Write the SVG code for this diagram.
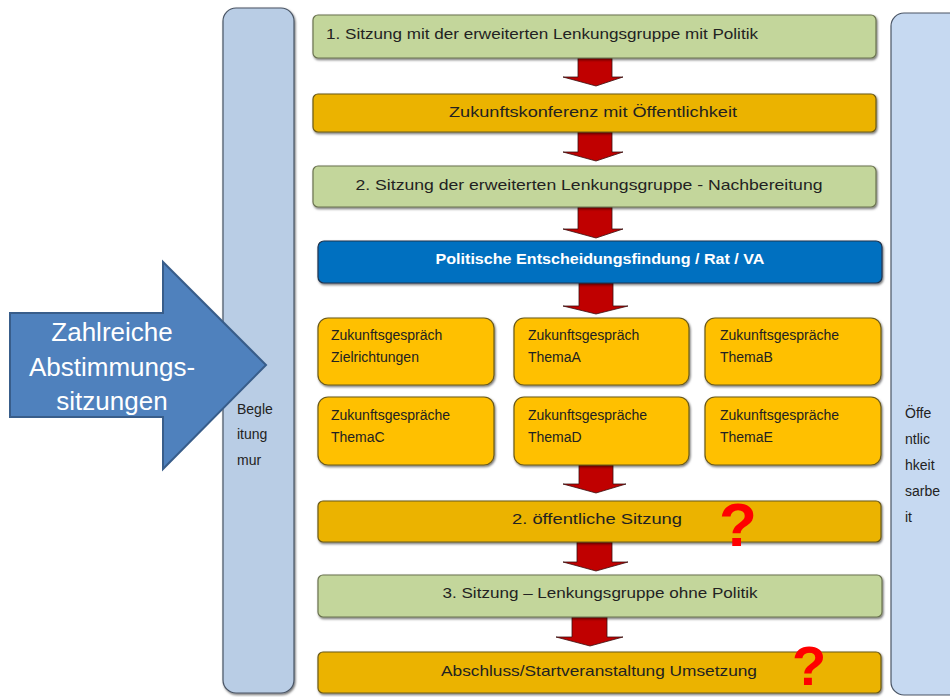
<svg xmlns="http://www.w3.org/2000/svg" width="950" height="697" viewBox="0 0 950 697">
<style>
text{font-family:"Liberation Sans",Arial,sans-serif;fill:#222;}
.lbl{font-size:15px;}
.sm{font-size:14px;}
.green{fill:#C3D69B;stroke:#6B7350;stroke-width:1.2;}
.orange{fill:#EBB300;stroke:#6B5A1A;stroke-width:1.2;}
.yel{fill:#FFC000;stroke:#6B5A1A;stroke-width:1.2;}
.blue{fill:#0070C0;stroke:#1F3550;stroke-width:1.2;}
.bar{stroke:#4A5565;stroke-width:1.2;}
.arr{fill:#C00000;stroke:#3A1010;stroke-width:0.8;}
.q{font-family:"Liberation Sans",Arial,sans-serif;font-weight:bold;font-size:62px;fill:#FF0000;}
.side{font-size:14px;fill:#222;}
</style>
<defs>
<filter id="sh" x="-5%" y="-20%" width="110%" height="150%">
<feDropShadow dx="1" dy="1.5" stdDeviation="0.8" flood-color="#000" flood-opacity="0.55"/>
</filter>
</defs>
<rect width="950" height="697" fill="#fff"/>

<g id="bar-left">
<rect class="bar" x="223" y="8" width="71" height="685" rx="13" fill="#B9CDE5" filter="url(#sh)"/>
<text class="side" x="237" y="414">Begle</text>
<text class="side" x="237" y="439">itung</text>
<text class="side" x="237" y="465">mur</text>
</g>

<g id="bar-right">
<rect class="bar" x="891" y="13" width="80" height="682" rx="13" fill="#C6D9F1"/>
<text class="side" x="905" y="418">Öffe</text>
<text class="side" x="905" y="444">ntlic</text>
<text class="side" x="905" y="470">hkeit</text>
<text class="side" x="905" y="496">sarbe</text>
<text class="side" x="905" y="522">it</text>
</g>

<g id="big-arrow">
<path d="M10,313 L163,313 L163,262 L266,365 L163,469 L163,417 L10,417 Z" fill="#4F81BD" stroke="#385D8A" stroke-width="2"/>
<text x="112" y="341" text-anchor="middle" style="font-size:26px;fill:#fff">Zahlreiche</text>
<text x="112" y="376" text-anchor="middle" style="font-size:26px;fill:#fff">Abstimmungs-</text>
<text x="112" y="410" text-anchor="middle" style="font-size:26px;fill:#fff">sitzungen</text>
</g>

<g id="connectors">
<path class="arr" d="M578,58 L612,58 L612,77 L623,77 L596,86 L563,77 L578,77 Z"/>
<path class="arr" d="M578,132 L612,132 L612,152 L623,152 L596,161 L563,152 L578,152 Z"/>
<path class="arr" d="M578,207 L612,207 L612,229 L623,229 L596,238 L563,229 L578,229 Z"/>
<path class="arr" d="M579,283 L613,283 L613,306 L628,306 L596,314 L563,306 L579,306 Z"/>
<path class="arr" d="M579,465 L613,465 L613,484 L626,484 L596,493 L563,484 L579,484 Z"/>
<path class="arr" d="M577,542 L612,542 L612,562 L628,562 L596,571 L563,562 L577,562 Z"/>
<path class="arr" d="M572,617 L607,617 L607,637 L623,637 L590,646 L556,637 L572,637 Z"/>
</g>

<g id="n1">
<rect class="green" x="313" y="15" width="563" height="43" rx="5" filter="url(#sh)"/>
<text class="lbl" x="326" y="39" textLength="432" lengthAdjust="spacingAndGlyphs">1. Sitzung mit der erweiterten Lenkungsgruppe mit Politik</text>
</g>
<g id="n2">
<rect class="orange" x="313" y="94" width="563" height="38" rx="5" filter="url(#sh)"/>
<text class="lbl" x="593" y="117" text-anchor="middle" textLength="288" lengthAdjust="spacingAndGlyphs">Zukunftskonferenz mit Öffentlichkeit</text>
</g>
<g id="n3">
<rect class="green" x="313" y="166" width="563" height="41" rx="5" filter="url(#sh)"/>
<text class="lbl" x="589" y="190" text-anchor="middle" textLength="467" lengthAdjust="spacingAndGlyphs">2. Sitzung der erweiterten Lenkungsgruppe - Nachbereitung</text>
</g>
<g id="n4">
<rect class="blue" x="318" y="241" width="564" height="42" rx="6" filter="url(#sh)"/>
<text class="lbl" x="600" y="264" text-anchor="middle" textLength="329" lengthAdjust="spacingAndGlyphs" style="font-weight:bold;fill:#fff">Politische Entscheidungsfindung / Rat / VA</text>
</g>

<g id="t1">
<rect class="yel" x="318" y="318" width="176" height="67" rx="10" filter="url(#sh)"/>
<text class="sm" x="331" y="340">Zukunftsgespräch</text>
<text class="sm" x="331" y="362">Zielrichtungen</text>
</g>
<g id="t2">
<rect class="yel" x="514" y="318" width="175" height="67" rx="10" filter="url(#sh)"/>
<text class="sm" x="528" y="340">Zukunftsgespräch</text>
<text class="sm" x="528" y="362">ThemaA</text>
</g>
<g id="t3">
<rect class="yel" x="705" y="318" width="176" height="67" rx="10" filter="url(#sh)"/>
<text class="sm" x="720" y="340">Zukunftsgespräche</text>
<text class="sm" x="720" y="362">ThemaB</text>
</g>
<g id="t4">
<rect class="yel" x="318" y="397" width="176" height="68" rx="10" filter="url(#sh)"/>
<text class="sm" x="331" y="420">Zukunftsgespräche</text>
<text class="sm" x="331" y="442">ThemaC</text>
</g>
<g id="t5">
<rect class="yel" x="514" y="397" width="175" height="68" rx="10" filter="url(#sh)"/>
<text class="sm" x="528" y="420">Zukunftsgespräche</text>
<text class="sm" x="528" y="442">ThemaD</text>
</g>
<g id="t6">
<rect class="yel" x="705" y="397" width="176" height="68" rx="10" filter="url(#sh)"/>
<text class="sm" x="720" y="420">Zukunftsgespräche</text>
<text class="sm" x="720" y="442">ThemaE</text>
</g>

<g id="n5">
<rect class="orange" x="318" y="501" width="563" height="41" rx="5" filter="url(#sh)"/>
<text class="lbl" x="597" y="524" text-anchor="middle" textLength="170" lengthAdjust="spacingAndGlyphs">2. öffentliche Sitzung</text>
<text class="q" x="738" y="546" text-anchor="middle">?</text>
</g>
<g id="n6">
<rect class="green" x="318" y="575" width="564" height="42" rx="5" filter="url(#sh)"/>
<text class="lbl" x="600" y="598" text-anchor="middle" textLength="315" lengthAdjust="spacingAndGlyphs">3. Sitzung – Lenkungsgruppe ohne Politik</text>
</g>
<g id="n7">
<rect class="orange" x="318" y="652" width="563" height="41" rx="5" filter="url(#sh)"/>
<text class="lbl" x="599" y="676" text-anchor="middle" textLength="316" lengthAdjust="spacingAndGlyphs">Abschluss/Startveranstaltung Umsetzung</text>
<text class="q" x="809" y="685" text-anchor="middle" style="font-size:56px">?</text>
</g>
</svg>
